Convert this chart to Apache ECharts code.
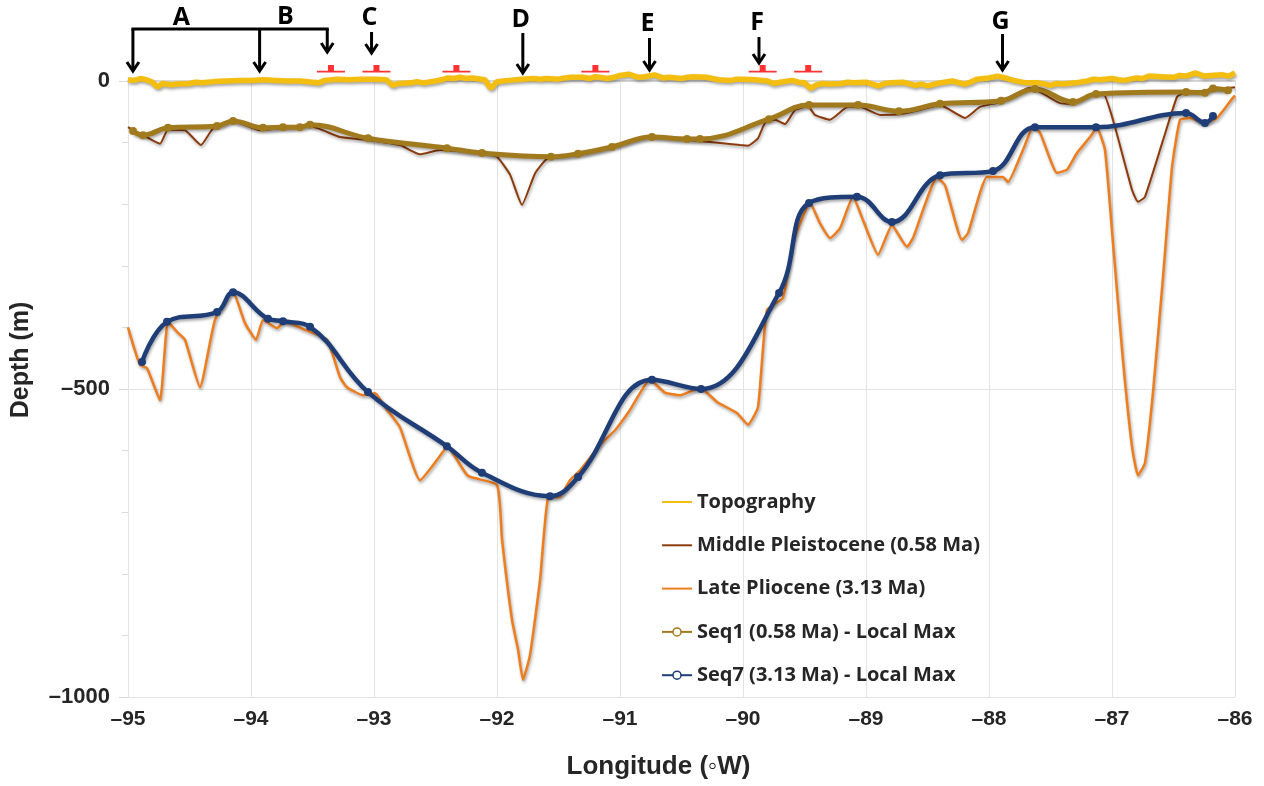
<!DOCTYPE html>
<html>
<head>
<meta charset="utf-8">
<script src="https://cdn.jsdelivr.net/npm/echarts@6/dist/echarts.min.js"></script>
<style>
  html, body { margin: 0; padding: 0; background: #fff; }
  #chart { width: 1264px; height: 786px; }
</style>
</head>
<body>
<div id="chart"></div>
<script>
// [longitude, depth in m]
const topography = [
  [-95.0, 2], [-94.95, 1], [-94.9, 4], [-94.85, 2], [-94.8, -2], [-94.76, -10], [-94.72, -4], [-94.65, -6],
  [-94.6, -5], [-94.5, -4], [-94.45, -2], [-94.4, -3], [-94.3, -1], [-94.2, 0], [-94.1, 1], [-94.0, 1],
  [-93.9, 2], [-93.8, 1], [-93.7, 0], [-93.6, 0], [-93.5, -2], [-93.45, -3], [-93.4, 1], [-93.3, 3],
  [-93.2, 2], [-93.1, 3], [-93.0, 3], [-92.9, 2], [-92.85, -7], [-92.8, -4], [-92.7, -3], [-92.65, -1],
  [-92.6, -3], [-92.5, 0], [-92.45, 2], [-92.4, 5], [-92.35, 4], [-92.3, 6], [-92.25, 4], [-92.2, 5],
  [-92.1, 2], [-92.05, -12], [-92.0, -1], [-91.95, 0], [-91.9, 1], [-91.8, 3], [-91.7, 4], [-91.65, 3],
  [-91.6, 4], [-91.5, 3], [-91.45, 5], [-91.4, 6], [-91.3, 6], [-91.25, 4], [-91.2, 7], [-91.1, 4],
  [-91.05, 6], [-91.0, 9], [-90.93, 11], [-90.85, 6], [-90.8, 7], [-90.72, 10], [-90.65, 5], [-90.6, 6],
  [-90.5, 4], [-90.45, 6], [-90.4, 7], [-90.3, 6], [-90.25, 4], [-90.2, 2], [-90.1, 1], [-90.05, 3],
  [-90.0, 3], [-89.9, 2], [-89.8, 0], [-89.75, -4], [-89.7, -2], [-89.6, 1], [-89.55, -2], [-89.5, -3],
  [-89.45, -12], [-89.4, -6], [-89.35, -4], [-89.3, -5], [-89.2, -4], [-89.15, -2], [-89.1, -3], [-89.0, -2],
  [-88.9, -8], [-88.85, -4], [-88.8, -3], [-88.7, -2], [-88.6, -7], [-88.55, -5], [-88.5, -8], [-88.4, -3],
  [-88.3, 0], [-88.2, -5], [-88.15, -2], [-88.1, 3], [-88.0, 5], [-87.93, 8], [-87.85, 4], [-87.8, 1],
  [-87.7, -3], [-87.6, -3], [-87.5, -7], [-87.45, -4], [-87.4, -5], [-87.3, -3], [-87.2, 0], [-87.15, 3],
  [-87.1, 2], [-87.0, 4], [-86.95, 2], [-86.9, 1], [-86.8, 5], [-86.75, 4], [-86.7, 8], [-86.6, 7],
  [-86.5, 6], [-86.45, 9], [-86.4, 8], [-86.32, 13], [-86.25, 8], [-86.2, 9], [-86.1, 10], [-86.05, 8], [-86.0, 13]
];

const midPleistocene = [
  [-95.0, -75], [-94.959, -80], [-94.878, -88], [-94.74, -102], [-94.675, -79], [-94.537, -80],
  [-94.407, -104], [-94.309, -77], [-94.146, -65], [-93.927, -80], [-93.724, -76], [-93.52, -73],
  [-93.276, -91], [-93.033, -96], [-92.789, -104], [-92.626, -119], [-92.463, -112], [-92.122, -117],
  [-92.0, -123], [-91.894, -152], [-91.797, -201], [-91.691, -150], [-91.585, -125], [-91.325, -120],
  [-91.065, -107], [-90.756, -91], [-90.431, -96], [-90.024, -104], [-89.959, -105], [-89.878, -93],
  [-89.821, -68], [-89.74, -63], [-89.659, -70], [-89.577, -47], [-89.472, -41], [-89.415, -55],
  [-89.293, -63], [-89.146, -42], [-89.049, -42], [-88.886, -55], [-88.724, -54], [-88.561, -47],
  [-88.398, -39], [-88.195, -60], [-88.073, -42], [-87.911, -34], [-87.667, -11], [-87.423, -36],
  [-87.341, -37], [-87.179, -23], [-87.073, -20], [-86.992, -63], [-86.837, -177], [-86.789, -196],
  [-86.732, -188], [-86.585, -96], [-86.472, -26], [-86.423, -20], [-86.203, -15], [-86.0, -10]
];

const latePliocene = [
  [-95.0, -400], [-94.959, -428], [-94.902, -461], [-94.846, -466], [-94.74, -518], [-94.675, -391],
  [-94.593, -409], [-94.537, -420], [-94.415, -497], [-94.293, -388], [-94.146, -343], [-94.049, -393],
  [-93.959, -420], [-93.902, -388], [-93.789, -401], [-93.724, -391], [-93.561, -404], [-93.382, -420],
  [-93.276, -481], [-93.22, -497], [-93.089, -510], [-92.992, -507], [-92.894, -534], [-92.789, -562],
  [-92.626, -648], [-92.439, -602], [-92.407, -593], [-92.236, -641], [-92.0, -656], [-91.959, -745],
  [-91.878, -875], [-91.829, -923], [-91.789, -972], [-91.732, -932], [-91.65, -810], [-91.585, -677],
  [-91.488, -675], [-91.407, -648], [-91.325, -632], [-91.163, -591], [-91.041, -567], [-90.919, -534],
  [-90.756, -485], [-90.634, -506], [-90.512, -510], [-90.35, -498], [-90.211, -521], [-90.049, -539],
  [-89.959, -558], [-89.878, -529], [-89.805, -372], [-89.675, -352], [-89.593, -263], [-89.455, -198],
  [-89.374, -231], [-89.293, -255], [-89.211, -239], [-89.106, -188], [-89.024, -226], [-88.902, -282],
  [-88.789, -234], [-88.667, -269], [-88.618, -255], [-88.423, -157], [-88.358, -169], [-88.22, -258],
  [-88.171, -247], [-88.016, -156], [-87.886, -156], [-87.846, -164], [-87.724, -112], [-87.642, -75],
  [-87.585, -84], [-87.447, -149], [-87.366, -144], [-87.285, -117], [-87.179, -91], [-87.122, -76],
  [-87.057, -112], [-86.992, -263], [-86.911, -453], [-86.837, -594], [-86.789, -640], [-86.732, -620],
  [-86.667, -506], [-86.585, -318], [-86.512, -140], [-86.447, -63], [-86.366, -60], [-86.26, -68],
  [-86.146, -60], [-86.016, -27], [-86.0, -24]
];

const seq1Max = [
  [-94.959, -81], [-94.878, -88], [-94.675, -76], [-94.276, -73], [-94.146, -65], [-93.902, -76],
  [-93.74, -75], [-93.602, -75], [-93.52, -71], [-93.049, -93], [-92.407, -109], [-92.122, -117],
  [-91.561, -123], [-91.341, -118], [-91.065, -107], [-90.74, -91], [-90.455, -94], [-90.35, -94],
  [-89.789, -62], [-89.463, -39], [-89.065, -39], [-88.732, -49], [-88.398, -37], [-87.902, -32],
  [-87.626, -13], [-87.317, -34], [-87.13, -21], [-86.398, -18], [-86.244, -19], [-86.179, -12],
  [-86.057, -15]
];

const seq7Max = [
  [-94.886, -456], [-94.683, -391], [-94.276, -375], [-94.146, -343], [-93.862, -386], [-93.74, -390],
  [-93.52, -399], [-93.049, -505], [-92.407, -593], [-92.122, -636], [-91.569, -674], [-91.341, -643],
  [-90.74, -485], [-90.341, -500], [-89.707, -344], [-89.463, -198], [-89.073, -188], [-88.789, -229],
  [-88.398, -153], [-87.967, -146], [-87.626, -75], [-87.13, -75], [-86.398, -52], [-86.244, -68],
  [-86.179, -57]
];

// red well symbols along the top
const wellLon = [-93.35, -92.98, -92.33, -91.2, -89.84, -89.47];
const wellDepth = [20, 20, 20, 20, 20, 20];

// labelled arrows
const arrowLabels = ['C', 'D', 'E', 'F', 'G'];
const arrowLon = [-93.02, -91.79, -90.76, -89.87, -87.89];
const bracketLon = [-94.96, -93.93, -93.38];

const FONT = '"Open Sans", "DejaVu Sans", sans-serif';
const AXFONT = '"Liberation Sans", Arial, sans-serif';
const TXT = '#262626';
const dash = v => String(v).replace('-', '\u2013');
const shadow = { shadowColor: 'rgba(0,0,0,0.35)', shadowBlur: 3, shadowOffsetX: 1, shadowOffsetY: 2 };
const NOFILL = 'rgba(0,0,0,0)';

const chart = echarts.init(document.getElementById('chart'));

const option = {
  backgroundColor: '#fff',
  animation: false,
  textStyle: { fontFamily: FONT },
  grid: { left: 128, right: 29, top: 81, bottom: 89 },
  legend: {
    orient: 'vertical',
    left: 656,
    top: 487,
    itemGap: 23.3,
    itemWidth: 30,
    itemHeight: 10,
    textStyle: { fontFamily: FONT, fontSize: 20, fontWeight: 'bold', color: TXT },
    data: [
      { name: 'Topography' },
      { name: 'Middle Pleistocene (0.58 Ma)' },
      { name: 'Late Pliocene (3.13 Ma)' },
      { name: 'Seq1 (0.58 Ma) - Local Max', itemStyle: { color: '#fff', borderColor: '#A07A1C', borderWidth: 1.5 } },
      { name: 'Seq7 (3.13 Ma) - Local Max', itemStyle: { color: '#fff', borderColor: '#1F3E78', borderWidth: 1.5 } }
    ]
  },
  xAxis: {
    type: 'value',
    min: -95,
    max: -86,
    interval: 1,
    name: 'Longitude (\u25E6W)',
    nameLocation: 'middle',
    nameGap: 57,
    nameTextStyle: { fontFamily: AXFONT, fontSize: 26, fontWeight: 'bold', color: TXT, padding: [0, 46, 0, 0] },
    axisLine: { lineStyle: { color: '#d9d9d9', width: 2 } },
    axisTick: { show: false },
    axisLabel: { fontFamily: AXFONT, fontSize: 21, fontWeight: 'bold', color: TXT, margin: 12, formatter: dash },
    splitLine: { lineStyle: { color: '#e3e3e3', width: 1 } }
  },
  yAxis: {
    type: 'value',
    min: -1000,
    max: 0,
    interval: 500,
    name: 'Depth (m)',
    nameLocation: 'middle',
    nameGap: 94,
    nameTextStyle: { fontFamily: AXFONT, fontSize: 25, fontWeight: 'bold', color: TXT, padding: [0, 0, 0, 58] },
    axisLine: { show: false },
    axisTick: { show: true, length: 9, lineStyle: { color: '#d9d9d9' } },
    minorTick: { show: true, splitNumber: 5, length: 6, lineStyle: { color: '#d9d9d9' } },
    axisLabel: { fontFamily: AXFONT, fontSize: 22, fontWeight: 'bold', color: TXT, margin: 18, formatter: dash },
    splitLine: { lineStyle: { color: '#e3e3e3', width: 1 } }
  },
  series: [
    {
      name: 'Middle Pleistocene (0.58 Ma)',
      type: 'line',
      data: midPleistocene,
      showSymbol: false,
      symbol: 'none',
      smooth: 0.15,
      clip: false,
      lineStyle: Object.assign({ color: '#8C3B0C', width: 2 }, shadow),
      itemStyle: { color: NOFILL }
    },
    {
      name: 'Late Pliocene (3.13 Ma)',
      type: 'line',
      data: latePliocene,
      showSymbol: false,
      symbol: 'none',
      smooth: 0.15,
      clip: false,
      lineStyle: Object.assign({ color: '#EE7D1E', width: 2.5 }, shadow),
      itemStyle: { color: NOFILL }
    },
    {
      name: 'Seq1 (0.58 Ma) - Local Max',
      type: 'line',
      data: seq1Max,
      smooth: 0.4,
      symbol: 'circle',
      symbolSize: 8,
      clip: false,
      lineStyle: Object.assign({ color: '#A07A1C', width: 5 }, shadow),
      itemStyle: { color: '#A07A1C' }
    },
    {
      name: 'Seq7 (3.13 Ma) - Local Max',
      type: 'line',
      data: seq7Max,
      smooth: 0.4,
      symbol: 'circle',
      symbolSize: 8,
      clip: false,
      lineStyle: Object.assign({ color: '#1F3E78', width: 4.5 }, shadow),
      itemStyle: { color: '#1F3E78' }
    },
    {
      name: 'Topography',
      type: 'line',
      data: topography,
      showSymbol: false,
      symbol: 'none',
      clip: false,
      lineStyle: Object.assign({ color: '#F4BE10', width: 5.5 }, shadow),
      itemStyle: { color: NOFILL }
    },
    {
      name: 'wells',
      type: 'scatter',
      data: wellLon.map((lon, i) => [lon, wellDepth[i]]),
      clip: false,
      symbol: 'path://M0,6 L28,6 L28,7.5 L0,7.5 Z M11,1 L17,1 L17,6 L11,6 Z',
      symbolSize: [28, 7.5],
      itemStyle: { color: '#FF0000' },
      silent: true
    }
  ]
};
chart.setOption(option);

// annotations A-G with arrows, placed from longitude
const px = lon => chart.convertToPixel({ xAxisIndex: 0 }, lon);
const stroke = { stroke: '#000', lineWidth: 3 };

function arrow(x, y1, y2) {
  return [
    { type: 'line', shape: { x1: x, y1: y1, x2: x, y2: y2 - 1 }, style: stroke },
    { type: 'polyline', shape: { points: [[x - 6, y2 - 9], [x, y2], [x + 6, y2 - 9]] }, style: stroke }
  ];
}
function letter(t, x, y) {
  return {
    type: 'text', x: x, y: y,
    style: { text: t, font: 'bold 25px ' + FONT, fill: '#000', align: 'center', verticalAlign: 'middle' }
  };
}

const g = [];
const bx = bracketLon.map(px);
g.push({ type: 'line', shape: { x1: bx[0] - 1.5, y1: 29, x2: bx[2] + 1.5, y2: 29 }, style: stroke });
g.push(...arrow(bx[0], 29, 71));
g.push(...arrow(bx[1], 29, 71));
g.push(...arrow(bx[2], 29, 52));
g.push(letter('A', (bx[0] + bx[1]) / 2 - 15, 18));
g.push(letter('B', (bx[1] + bx[2]) / 2 - 8, 17));

const arrowTop = [32, 33, 38, 37, 34];
const arrowTip = [53, 73, 70, 63, 70];
const letterY = [18, 20, 24, 23, 22];
arrowLon.forEach((lon, i) => {
  const x = px(lon);
  g.push(...arrow(x, arrowTop[i], arrowTip[i]));
  g.push(letter(arrowLabels[i], x - 2, letterY[i]));
});

chart.setOption({ graphic: g });
</script>
</body>
</html>
